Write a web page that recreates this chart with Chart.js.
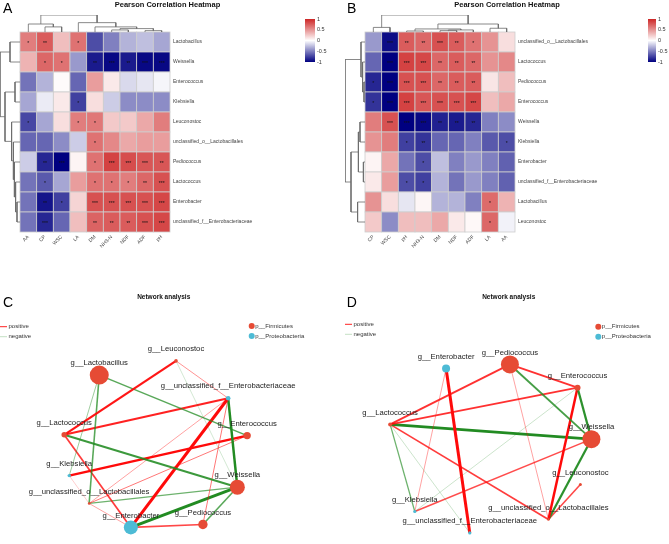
<!DOCTYPE html>
<html>
<head>
<meta charset="utf-8">
<script src="https://cdn.jsdelivr.net/npm/chart.js@4.4.1/dist/chart.umd.min.js"></script>
<style>
  html, body { margin: 0; padding: 0; background: #fff; overflow: hidden; }
  body { width: 669px; height: 544px; position: relative; }
  .box { position: absolute; }
</style>
</head>
<body>
<div class="box" style="left:0;top:0;width:335px;height:260px"><canvas id="heatA"></canvas></div>
<div class="box" style="left:298px;top:12px;width:40px;height:56px"><canvas id="barA"></canvas></div>
<div class="box" style="left:335px;top:0;width:334px;height:260px"><canvas id="heatB"></canvas></div>
<div class="box" style="left:641px;top:12px;width:40px;height:56px"><canvas id="barB"></canvas></div>
<div class="box" style="left:0;top:262px;width:335px;height:282px"><canvas id="netC"></canvas></div>
<div class="box" style="left:335px;top:262px;width:334px;height:282px"><canvas id="netD"></canvas></div>
<script>
Chart.defaults.font.family = "'Liberation Sans', Arial, sans-serif";

// ---- heatmap A ----
const colsA = ["AA", "CP", "WSC", "LA", "DM", "NH3-N", "NDF", "ADF", "pH"];
const rowsA = [
  "Lactobacillus", "Weissella", "Enterococcus", "Klebsiella", "Leuconostoc",
  "unclassified_o__Lactobacillales", "Pediococcus", "Lactococcus", "Enterobacter",
  "unclassified_f__Enterobacteriaceae",
];
const corrA = [
  [0.6, 0.75, 0.3, 0.65, -0.7, -0.5, -0.3, -0.25, -0.35],
  [0.35, 0.7, 0.65, -0.4, -0.9, -0.97, -0.9, -0.97, -0.97],
  [-0.55, -0.3, 0.02, -0.6, 0.45, 0.1, -0.15, -0.1, -0.04],
  [-0.35, -0.08, 0.1, -0.75, 0.15, -0.2, -0.45, -0.45, -0.45],
  [-0.72, -0.35, 0.15, 0.6, 0.62, 0.25, 0.25, 0.4, 0.6],
  [-0.6, -0.6, -0.45, -0.2, 0.65, 0.55, 0.4, 0.45, 0.45],
  [-0.2, -0.85, -1, 0.05, 0.65, 0.87, 0.82, 0.78, 0.78],
  [-0.55, -0.65, -0.35, 0.45, 0.65, 0.65, 0.6, 0.7, 0.8],
  [-0.55, -0.92, -0.75, 0.2, 0.8, 0.8, 0.8, 0.8, 0.85],
  [-0.55, -0.85, -0.6, 0.3, 0.72, 0.75, 0.75, 0.8, 0.85],
];
const starsA = [
  ["*", "**", "", "*", "", "", "", "", ""],
  ["", "*", "*", "", "**", "***", "**", "***", "***"],
  ["", "", "", "", "", "", "", "", ""],
  ["", "", "", "*", "", "", "", "", ""],
  ["*", "", "", "*", "*", "", "", "", ""],
  ["", "", "", "", "*", "", "", "", ""],
  ["", "**", "***", "", "*", "***", "***", "***", "**"],
  ["", "*", "", "", "*", "*", "*", "**", "***"],
  ["", "**", "*", "", "***", "***", "***", "***", "***"],
  ["", "***", "", "", "**", "**", "**", "***", "***"],
];
const colTreeA = [["AA", ["CP", "WSC", 0.3], 0.47], ["LA", ["DM", [["NH3-N", "NDF", 0.12], ["ADF", "pH", 0.08], 0.2], 0.3], 0.55], 1];
const rowTreeA = [
  ["Lactobacillus", "Weissella", 0.5],
  [["Enterococcus", "Klebsiella", 0.25],
   ["Leuconostoc", ["unclassified_o__Lactobacillales", ["Pediococcus", ["Lactococcus",
     ["Enterobacter", "unclassified_f__Enterobacteriaceae", 0.15], 0.22], 0.28], 0.33], 0.42], 0.75],
  1];

// ---- heatmap B ----
const colsB = ["CP", "WSC", "pH", "NH3-N", "DM", "NDF", "ADF", "LA", "AA"];
const rowsB = [
  "unclassified_o__Lactobacillales", "Lactococcus", "Pediococcus", "Enterococcus", "Weissella",
  "Klebsiella", "Enterobacter", "unclassified_f__Enterobacteriaceae", "Lactobacillus", "Leuconostoc",
];
const corrB = [
  [-0.4, -0.95, 0.75, 0.7, 0.8, 0.75, 0.65, 0.5, 0.15],
  [-0.6, -1, 0.87, 0.85, 0.7, 0.75, 0.7, 0.5, 0.55],
  [-0.85, -1, 0.8, 0.8, 0.7, 0.75, 0.75, 0.12, 0.3],
  [-0.8, -1, 0.87, 0.78, 0.8, 0.8, 0.85, 0.3, 0.4],
  [0.6, 0.8, -1, -0.97, -0.87, -0.9, -0.85, -0.5, -0.45],
  [0.5, 0.6, -0.75, -0.8, -0.6, -0.6, -0.5, -0.65, -0.7],
  [0.05, 0.4, -0.55, -0.7, -0.25, -0.5, -0.4, -0.5, -0.62],
  [0.1, 0.45, -0.7, -0.75, -0.3, -0.55, -0.4, -0.5, -0.62],
  [0.5, 0.15, -0.1, 0.04, -0.3, -0.3, -0.5, 0.68, 0.35],
  [0.25, -0.45, 0.3, 0.3, 0.4, 0.1, 0.03, 0.7, -0.05],
];
const starsB = [
  ["", "***", "**", "**", "***", "**", "*", "", ""],
  ["", "***", "***", "***", "**", "**", "**", "", ""],
  ["*", "***", "***", "***", "**", "**", "**", "", ""],
  ["*", "***", "***", "***", "***", "***", "***", "", ""],
  ["", "***", "***", "***", "**", "**", "**", "", ""],
  ["", "", "*", "**", "", "", "", "", "*"],
  ["", "", "", "*", "", "", "", "", ""],
  ["", "", "*", "*", "", "", "", "", ""],
  ["", "", "", "", "", "", "", "*", ""],
  ["", "", "", "", "", "", "", "*", ""],
];
const colTreeB = [["CP", "WSC", 0.27], [[["pH", "NH3-N", 0.06], [["DM", "NDF", 0.08], "ADF", 0.12], 0.18], ["LA", "AA", 0.22], 0.47], 1];
const rowTreeB = [
  ["unclassified_o__Lactobacillales", ["Lactococcus", ["Pediococcus", "Enterococcus", 0.05], 0.12], 0.2],
  [[["Weissella", "Klebsiella", 0.25], ["Enterobacter", "unclassified_f__Enterobacteriaceae", 0.08], 0.33],
   ["Lactobacillus", "Leuconostoc", 0.37], 0.7],
  1];

// ---- networks ----
const nodesC = ["Leuconostoc", "Lactobacillus", "unclassified_f__Enterobacteriaceae", "Lactococcus", "Enterococcus",
  "Klebsiella", "Weissella", "unclassified_o__Lactobacillales", "Enterobacter", "Pediococcus"];
const nodeXC = [52.7, 28.4, 69.2, 17.3, 75.2, 18.9, 72.1, 25.2, 38.4, 61.2];
const nodeYC = [66.0, 60.6, 51.8, 37.9, 37.6, 22.4, 18.0, 11.8, 2.7, 3.8];
const nodeSizeC = [1.8, 9.5, 2.3, 2.7, 3.7, 1.7, 7.5, 1.3, 7, 4.7];
const phylumC = ["F", "F", "P", "F", "F", "P", "F", "F", "P", "F"];
const edgesC = [
  ["Leuconostoc", "Lactococcus", 0.85],
  ["Leuconostoc", "unclassified_f__Enterobacteriaceae", 0.66],
  ["Leuconostoc", "Weissella", -0.6],
  ["Lactobacillus", "Klebsiella", -0.66],
  ["Lactobacillus", "unclassified_o__Lactobacillales", -0.76],
  ["Lactobacillus", "Enterococcus", -0.76],
  ["Lactococcus", "unclassified_f__Enterobacteriaceae", 0.83],
  ["Lactococcus", "Weissella", -0.82],
  ["Lactococcus", "Enterobacter", 0.78],
  ["unclassified_f__Enterobacteriaceae", "Enterobacter", 0.95],
  ["unclassified_f__Enterobacteriaceae", "Weissella", -0.88],
  ["unclassified_f__Enterobacteriaceae", "unclassified_o__Lactobacillales", 0.65],
  ["unclassified_f__Enterobacteriaceae", "Pediococcus", 0.68],
  ["Klebsiella", "Enterococcus", 0.88],
  ["Klebsiella", "unclassified_o__Lactobacillales", 0.6],
  ["unclassified_o__Lactobacillales", "Enterococcus", 0.68],
  ["unclassified_o__Lactobacillales", "Weissella", -0.72],
  ["unclassified_o__Lactobacillales", "Enterobacter", 0.65],
  ["Enterobacter", "Weissella", -0.95],
  ["Enterobacter", "Pediococcus", 0.76],
  ["Pediococcus", "Weissella", -0.76],
];

const nodesD = ["Enterobacter", "Pediococcus", "Enterococcus", "Lactococcus", "Weissella", "Leuconostoc",
  "Klebsiella", "unclassified_o__Lactobacillales", "unclassified_f__Enterobacteriaceae"];
const nodeXD = [32.3, 52.5, 73.9, 14.6, 78.3, 74.8, 22.4, 64.7, 39.8];
const nodeYD = [63.1, 64.6, 55.8, 41.9, 36.3, 19.1, 8.9, 5.9, 0.8];
const nodeSizeD = [4, 9, 3, 2, 9, 1.5, 1.6, 1.3, 1.6];
const phylumD = ["P", "F", "F", "F", "F", "F", "P", "F", "P"];
const edgesD = [
  ["Enterobacter", "unclassified_f__Enterobacteriaceae", 0.95],
  ["Enterobacter", "Klebsiella", 0.65],
  ["Pediococcus", "Lactococcus", 0.8],
  ["Pediococcus", "Enterococcus", 0.8],
  ["Pediococcus", "Weissella", -0.8],
  ["Pediococcus", "unclassified_o__Lactobacillales", 0.65],
  ["Enterococcus", "Lactococcus", 0.8],
  ["Enterococcus", "Weissella", -0.85],
  ["Enterococcus", "unclassified_o__Lactobacillales", 0.88],
  ["Enterococcus", "Klebsiella", -0.62],
  ["Lactococcus", "Weissella", -0.92],
  ["Lactococcus", "Klebsiella", -0.72],
  ["Lactococcus", "unclassified_f__Enterobacteriaceae", -0.62],
  ["Lactococcus", "unclassified_o__Lactobacillales", 0.78],
  ["Weissella", "Klebsiella", 0.75],
  ["Weissella", "unclassified_o__Lactobacillales", -0.85],
  ["Leuconostoc", "unclassified_o__Lactobacillales", 0.76],
];

const COL_DENDRO = 0.85;
const ROW_DENDRO = 1.2;

function mix(a, b, t) {
  return a.map((v, i) => Math.round(v + (b[i] - v) * t));
}

function corrColor(v) {
  const white = [255, 255, 255];
  const c = v < 0 ? mix(white, [0, 0, 128], -v) : mix(white, [205, 38, 38], v);
  return `rgb(${c[0]},${c[1]},${c[2]})`;
}

function layoutTree(node, leafPos, segs) {
  if (typeof node === "string") {
    return { pos: leafPos[node], h: 0 };
  }
  const a = layoutTree(node[0], leafPos, segs);
  const b = layoutTree(node[1], leafPos, segs);
  const h = node[2];
  segs.push([[a.pos, a.h], [a.pos, h], [b.pos, h], [b.pos, b.h]]);
  return { pos: (a.pos + b.pos) / 2, h };
}

function dendroDataset(points) {
  return {
    type: "line",
    data: points,
    borderColor: "#6b6b6b",
    borderWidth: 0.8,
    pointRadius: 0,
    tension: 0,
    fill: false,
  };
}

function heatPlugin(rows, cols, values, stars, letter, letterX) {
  return {
    id: "heatCells",
    beforeDatasetsDraw(chart) {
      const { ctx } = chart;
      const { x, y } = chart.scales;
      const n = rows.length;
      ctx.save();
      rows.forEach((_, r) => {
        const yi = n - 1 - r;
        const top = y.getPixelForValue(yi + 0.5);
        const bottom = y.getPixelForValue(yi - 0.5);
        cols.forEach((_, c) => {
          const left = x.getPixelForValue(c - 0.5);
          const right = x.getPixelForValue(c + 0.5);
          ctx.fillStyle = corrColor(values[r][c]);
          ctx.fillRect(left, top, right - left, bottom - top);
          ctx.strokeStyle = "#cdcdcd";
          ctx.lineWidth = 0.8;
          ctx.strokeRect(left, top, right - left, bottom - top);
        });
      });
      ctx.fillStyle = "#111";
      ctx.font = "5px 'Liberation Sans', Arial, sans-serif";
      ctx.textAlign = "center";
      ctx.textBaseline = "middle";
      rows.forEach((_, r) => {
        cols.forEach((_, c) => {
          if (stars[r][c]) {
            ctx.fillText(stars[r][c], x.getPixelForValue(c), y.getPixelForValue(n - 1 - r) + 1.5);
          }
        });
      });
      ctx.restore();
    },
    afterDraw(chart) {
      const { ctx } = chart;
      ctx.save();
      ctx.fillStyle = "#000";
      ctx.font = "14px 'Liberation Sans', Arial, sans-serif";
      ctx.textAlign = "left";
      ctx.textBaseline = "alphabetic";
      ctx.fillText(letter, letterX, 12.7);
      ctx.restore();
    },
  };
}

function renderHeatmap(canvasId, cfg) {
  const { rows, cols, values, stars, colTree, rowTree, letter, letterX, padLeft, axisWidth } = cfg;
  const n = rows.length;
  const colPos = Object.fromEntries(cols.map((c, i) => [c, i]));
  const rowPos = Object.fromEntries(rows.map((r, i) => [r, n - 1 - i]));

  const datasets = [];
  const colSegs = [];
  layoutTree(colTree, colPos, colSegs);
  colSegs.forEach((seg) => {
    datasets.push(dendroDataset(seg.map(([p, h]) => ({ x: p, y: n - 0.5 + h * COL_DENDRO }))));
  });
  const rowSegs = [];
  layoutTree(rowTree, rowPos, rowSegs);
  rowSegs.forEach((seg) => {
    datasets.push(dendroDataset(seg.map(([p, h]) => ({ x: -0.5 - h * ROW_DENDRO, y: p }))));
  });

  return new Chart(document.getElementById(canvasId), {
    type: "scatter",
    data: { datasets },
    plugins: [heatPlugin(rows, cols, values, stars, letter, letterX)],
    options: {
      responsive: true,
      maintainAspectRatio: false,
      animation: false,
      layout: { padding: { left: padLeft, top: 0, right: 0, bottom: 0 } },
      plugins: {
        legend: { display: false },
        tooltip: { enabled: false },
        title: {
          display: true,
          text: "Pearson Correlation Heatmap",
          color: "#111",
          font: { size: 7.5, weight: "bold" },
          padding: { top: 0, bottom: 6 },
        },
      },
      scales: {
        x: {
          type: "linear",
          min: -0.5 - ROW_DENDRO,
          max: cols.length - 0.5,
          grid: { display: false, drawTicks: false },
          border: { display: false },
          afterBuildTicks: (axis) => {
            axis.ticks = cols.map((_, i) => ({ value: i }));
          },
          afterFit: (axis) => {
            axis.height = 28;
          },
          ticks: {
            autoSkip: false,
            minRotation: 45,
            maxRotation: 45,
            padding: 2,
            color: "#444",
            font: { size: 5 },
            callback: (value) => cols[value],
          },
        },
        y: {
          type: "linear",
          position: "right",
          min: -0.5,
          max: n - 0.5 + COL_DENDRO,
          grid: { display: false, drawTicks: false },
          border: { display: false },
          afterBuildTicks: (axis) => {
            axis.ticks = rows.map((_, i) => ({ value: i }));
          },
          afterFit: (axis) => {
            axis.width = axisWidth;
          },
          ticks: {
            autoSkip: false,
            padding: 3,
            color: "#444",
            font: { size: 5 },
            callback: (value) => rows[n - 1 - value],
          },
        },
      },
    },
  });
}

function renderColorBar(canvasId, axisWidth) {
  return new Chart(document.getElementById(canvasId), {
    type: "bar",
    data: {
      labels: [""],
      datasets: [{
        data: [[-1, 1]],
        barPercentage: 1,
        categoryPercentage: 1,
        borderWidth: 0,
        backgroundColor: (context) => {
          const { ctx, chartArea } = context.chart;
          if (!chartArea) {
            return "#fff";
          }
          const g = ctx.createLinearGradient(0, chartArea.bottom, 0, chartArea.top);
          g.addColorStop(0, corrColor(-1));
          g.addColorStop(0.5, corrColor(0));
          g.addColorStop(1, corrColor(1));
          return g;
        },
      }],
    },
    options: {
      responsive: true,
      maintainAspectRatio: false,
      animation: false,
      layout: { padding: { left: 7, top: 7, bottom: 6, right: 0 } },
      plugins: { legend: { display: false }, tooltip: { enabled: false } },
      scales: {
        x: { display: false },
        y: {
          position: "right",
          min: -1,
          max: 1,
          grid: { display: false, drawTicks: false },
          border: { display: false },
          afterFit: (axis) => {
            axis.width = axisWidth;
          },
          ticks: {
            stepSize: 0.5,
            padding: 2,
            color: "#333",
            font: { size: 5.5 },
            callback: (value) => `${value}`,
          },
        },
      },
    },
  });
}

function edgeStyle(r) {
  const s = Math.abs(r);
  const width = Math.max(0.5, (s - 0.55) * 7.5);
  const alpha = Math.min(1, 0.4 + (s - 0.6) * 2.2);
  const color = r > 0 ? `rgba(255,10,10,${alpha})` : `rgba(34,139,34,${alpha})`;
  return { width, color };
}

const PHYLUM_COLOR = { F: "#E64B35", P: "#4DBBD5" };

function netPlugin(nodes, layout) {
  return {
    id: "netText",
    afterDatasetsDraw(chart) {
      const { ctx } = chart;
      const meta = chart.getDatasetMeta(0);
      ctx.save();
      ctx.fillStyle = "#222";
      ctx.font = "7.7px 'Liberation Sans', Arial, sans-serif";
      ctx.textAlign = "center";
      ctx.textBaseline = "middle";
      nodes.forEach((name, i) => {
        const pt = meta.data[i];
        ctx.fillText("g__" + name, pt.x, pt.y - 12);
      });

      ctx.font = "bold 6.5px 'Liberation Sans', Arial, sans-serif";
      ctx.fillStyle = "#111";
      ctx.fillText("Network analysis", layout.titleX, 35.7);

      ctx.font = "14px 'Liberation Sans', Arial, sans-serif";
      ctx.textAlign = "left";
      ctx.textBaseline = "alphabetic";
      ctx.fillStyle = "#000";
      ctx.fillText(layout.letter, layout.letterX, 44.7);

      ctx.font = "6px 'Liberation Sans', Arial, sans-serif";
      ctx.textBaseline = "middle";
      ctx.fillStyle = "#333";
      const lx = layout.lineX;
      ctx.lineWidth = 1;
      ctx.strokeStyle = "rgba(255,10,10,0.9)";
      ctx.beginPath();
      ctx.moveTo(lx, layout.lineY);
      ctx.lineTo(lx + 7, layout.lineY);
      ctx.stroke();
      ctx.lineWidth = 0.6;
      ctx.strokeStyle = "rgba(34,139,34,0.45)";
      ctx.beginPath();
      ctx.moveTo(lx, layout.lineY + 10);
      ctx.lineTo(lx + 7, layout.lineY + 10);
      ctx.stroke();
      ctx.fillText("positive", lx + 8.5, layout.lineY);
      ctx.fillText("negative", lx + 8.5, layout.lineY + 10);

      [["F", "p__Firmicutes"], ["P", "p__Proteobacteria"]].forEach(([key, label], k) => {
        const yy = layout.dotY + k * 10;
        ctx.fillStyle = PHYLUM_COLOR[key];
        ctx.beginPath();
        ctx.arc(layout.dotX, yy, 3, 0, Math.PI * 2);
        ctx.fill();
        ctx.fillStyle = "#333";
        ctx.fillText(label, layout.dotX + 3.5, yy);
      });
      ctx.restore();
    },
  };
}

function renderNetwork(canvasId, nodes, xs, ys, sizes, phyla, edges, layout) {
  const idx = Object.fromEntries(nodes.map((nm, i) => [nm, i]));
  const datasets = [{
    type: "scatter",
    data: nodes.map((_, i) => ({ x: xs[i], y: ys[i] })),
    pointRadius: sizes,
    pointHoverRadius: sizes,
    pointBackgroundColor: phyla.map((p) => PHYLUM_COLOR[p]),
    pointBorderWidth: 0,
    clip: false,
    order: 0,
  }];
  edges.forEach(([a, b, r]) => {
    const st = edgeStyle(r);
    datasets.push({
      type: "line",
      data: [{ x: xs[idx[a]], y: ys[idx[a]] }, { x: xs[idx[b]], y: ys[idx[b]] }],
      borderColor: st.color,
      borderWidth: st.width,
      pointRadius: 0,
      tension: 0,
      fill: false,
      clip: false,
      order: 1,
    });
  });
  return new Chart(document.getElementById(canvasId), {
    type: "scatter",
    data: { datasets },
    plugins: [netPlugin(nodes, layout)],
    options: {
      responsive: true,
      maintainAspectRatio: false,
      animation: false,
      layout: { padding: 0 },
      plugins: { legend: { display: false }, tooltip: { enabled: false } },
      scales: {
        x: { display: false, min: 0, max: 100 },
        y: { display: false, min: 0, max: 100 },
      },
    },
  });
}

renderHeatmap("heatA", {
  rows: rowsA, cols: colsA, values: corrA, stars: starsA, colTree: colTreeA, rowTree: rowTreeA,
  letter: "A", letterX: 3, padLeft: 0, axisWidth: 165,
});
renderHeatmap("heatB", {
  rows: rowsB, cols: colsB, values: corrB, stars: starsB, colTree: colTreeB, rowTree: rowTreeB,
  letter: "B", letterX: 12, padLeft: 10, axisWidth: 154,
});
renderColorBar("barA", 23);
renderColorBar("barB", 25);

renderNetwork("netC", nodesC, nodeXC, nodeYC, nodeSizeC, phylumC, edgesC, {
  letter: "C", letterX: 3, titleX: 163.7, lineX: 0, lineY: 64.7, dotX: 251.7, dotY: 64,
});
renderNetwork("netD", nodesD, nodeXD, nodeYD, nodeSizeD, phylumD, edgesD, {
  letter: "D", letterX: 11.7, titleX: 173.7, lineX: 10, lineY: 62.3, dotX: 263.3, dotY: 64.7,
});
</script>
</body>
</html>
